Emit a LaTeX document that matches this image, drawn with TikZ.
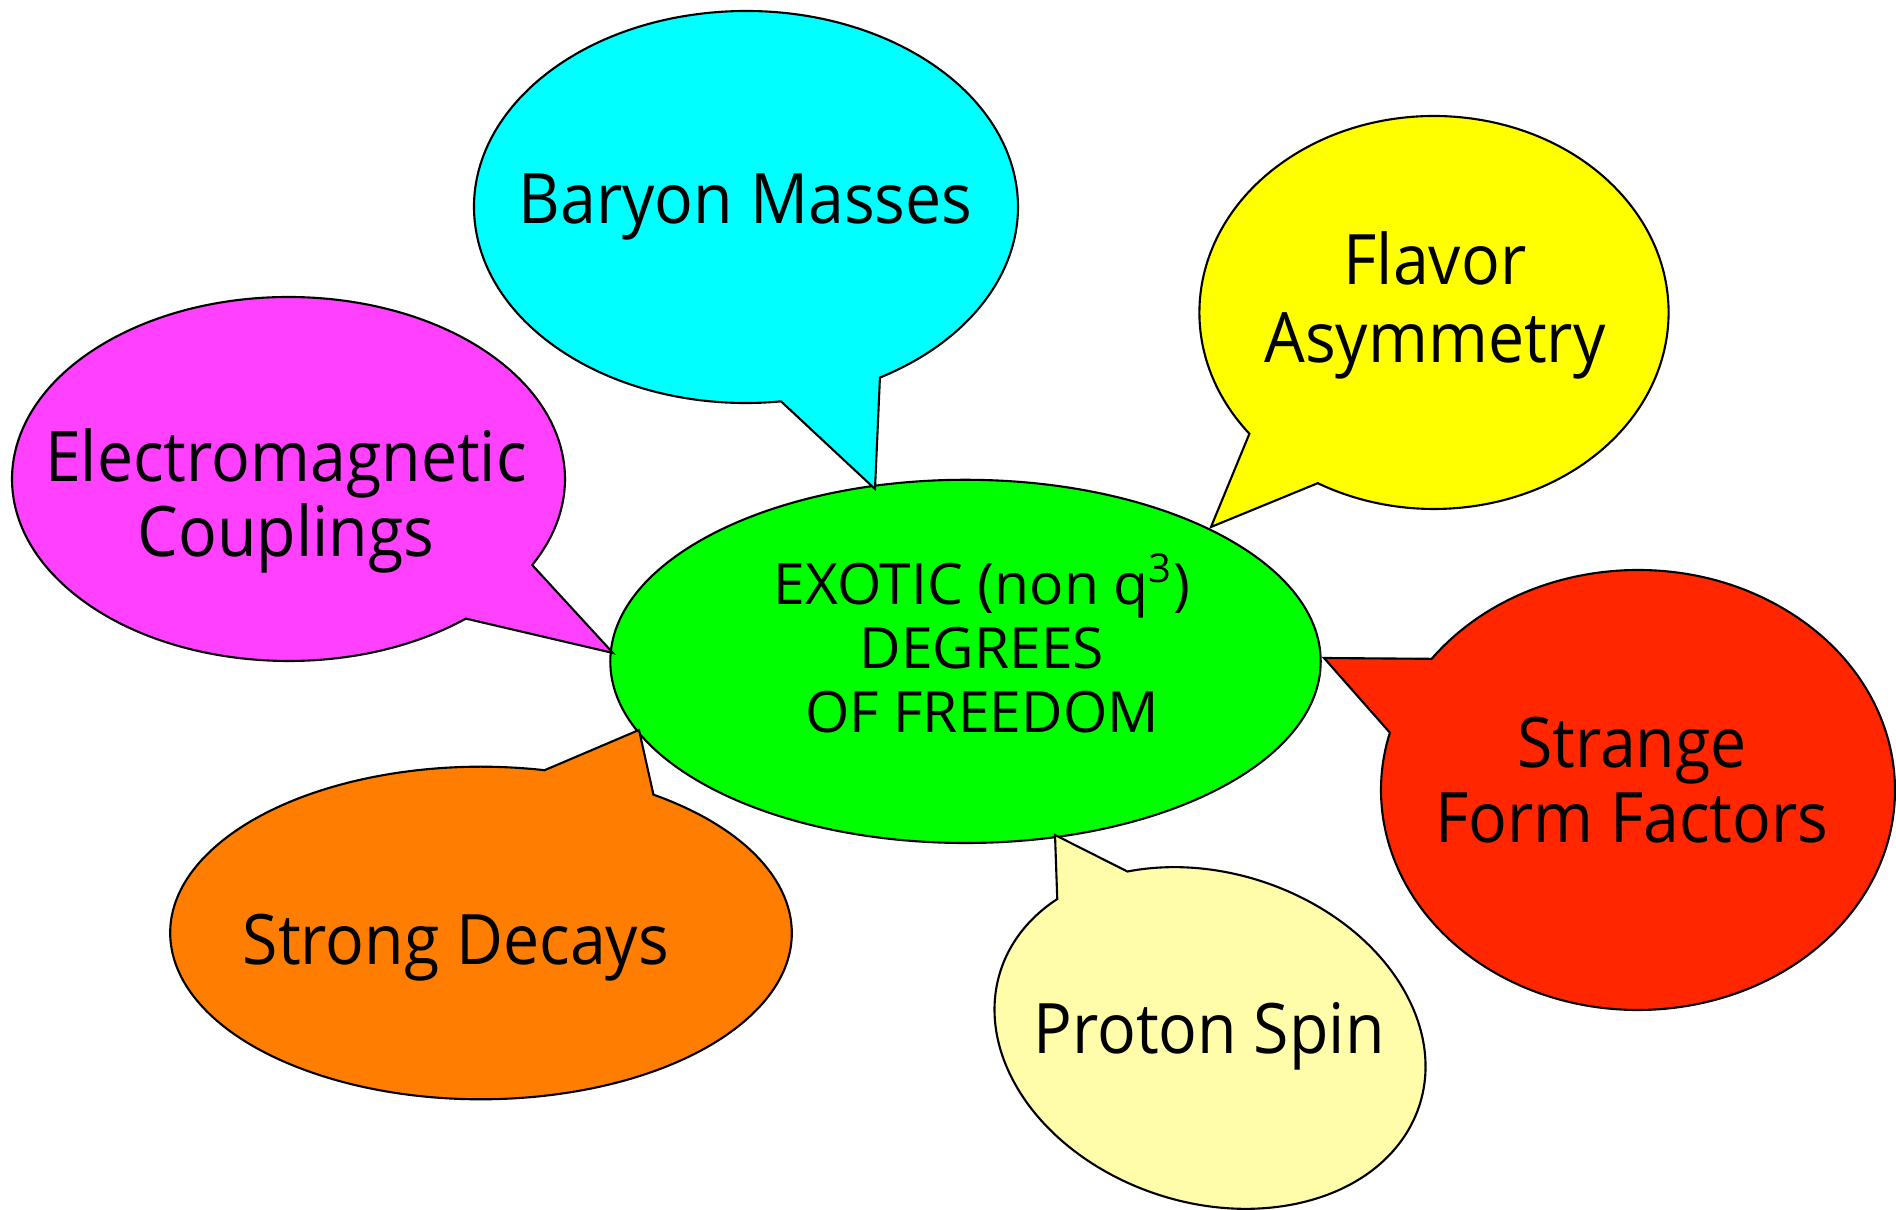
\documentclass[tikz,border=0pt]{standalone}
\usepackage{fontspec}
\setmainfont{Open Sans}[FakeStretch=0.925]
\newfontfamily\corefont{Open Sans}[FakeStretch=1.0]
\usetikzlibrary{shapes.geometric}
\definecolor{cCyan}{RGB}{0,255,255}
\definecolor{cYellow}{RGB}{255,255,0}
\definecolor{cMagenta}{RGB}{255,64,255}
\definecolor{cGreen}{RGB}{0,255,0}
\definecolor{cRed}{RGB}{255,38,0}
\definecolor{cOrange}{RGB}{255,125,0}
\definecolor{cPale}{RGB}{255,252,170}
\tikzset{
  bubble/.style={draw=black, line width=0.6pt, line join=miter},
  lbl/.style={inner sep=0pt, align=center, text=black, anchor=north,
    font=\fontsize{19.8}{21.3}\selectfont},
  glbl/.style={inner sep=0pt, align=center, text=black, anchor=north,
    font=\corefont\fontsize{16.2}{18.2}\selectfont},
}
\newcommand\lift{\rule{0pt}{20pt}}
\begin{document}
\begin{tikzpicture}[x=0.01cm, y=-0.01cm]
\path[fill=white] (0,0) rectangle (1896,1210);
\useasboundingbox (0,0) rectangle (1896,1210);
% central ellipse
\node[ellipse, draw=black, line width=0.6pt, fill=cGreen, inner sep=0pt,
  minimum width=7.1cm, minimum height=3.63cm] (core) at (965.5,661.4) {};
% tail tips
\coordinate (tipB) at (875,489);
\coordinate (tipF) at (1211,527);
\coordinate (tipE) at (613,653);
\coordinate (tipS) at (639,730);
\coordinate (tipP) at (1055,835);
\coordinate (tipR) at (1324,658);
% bubbles
\begin{scope}[shift={(746,207)}]
\path[bubble, fill=cCyan] (82.6:272 and 196)
  arc[start angle=82.6, end angle=420.5, x radius=272, y radius=196] -- (tipB) -- cycle;
\end{scope}
\begin{scope}[shift={(1434,312.5)}]
\path[bubble, fill=cYellow] (141.9:234.6 and 196.5)
  arc[start angle=141.9, end angle=479.7, x radius=234.6, y radius=196.5] -- (tipF) -- cycle;
\end{scope}
\begin{scope}[shift={(288.5,479)}]
\path[bubble, fill=cMagenta] (50.1:276.5 and 182)
  arc[start angle=50.1, end angle=388.2, x radius=276.5, y radius=182] -- (tipE) -- cycle;
\end{scope}
\begin{scope}[shift={(481,933)}]
\path[bubble, fill=cOrange] (303.7:310.8 and 166.3)
  arc[start angle=303.7, end angle=641.8, x radius=310.8, y radius=166.3] -- (tipS) -- cycle;
\end{scope}
\begin{scope}[shift={(1210,1038)}, rotate=-17.7]
\path[bubble, fill=cPale] (234:220 and 165)
  arc[start angle=234, end angle=571.4, x radius=220, y radius=165] -- (tipP) -- cycle;
\end{scope}
\begin{scope}[shift={(1638,790)}]
\path[bubble, fill=cRed] (216.6:257 and 220)
  arc[start angle=216.6, end angle=555.1, x radius=257, y radius=220] -- (tipR) -- cycle;
\end{scope}
% labels
\node[lbl] (tBaryon) at ([yshift=20pt]745.5,222.5) {\lift Baryon Masses};
\node[lbl] (tFlavor) at ([yshift=20pt]1435,284) {\lift Flavor\\[0.9pt]Asymmetry};
\node[lbl] (tEM) at ([yshift=20pt]286,481) {\lift Electromagnetic\\Couplings};
\node[lbl] (tStrong) at ([yshift=20pt]456,964) {\lift Strong Decays};
\node[lbl] (tProton) at ([yshift=20pt]1209,1053) {\lift Proton Spin};
\node[lbl] (tStrange) at ([yshift=20pt]1632,767) {\lift Strange\\Form Factors};
\node[glbl] (tCore) at ([yshift=20pt]982,604) {\lift EXOTIC (non q\textsuperscript{3})\\DEGREES\\OF FREEDOM};
\end{tikzpicture}
\end{document}
